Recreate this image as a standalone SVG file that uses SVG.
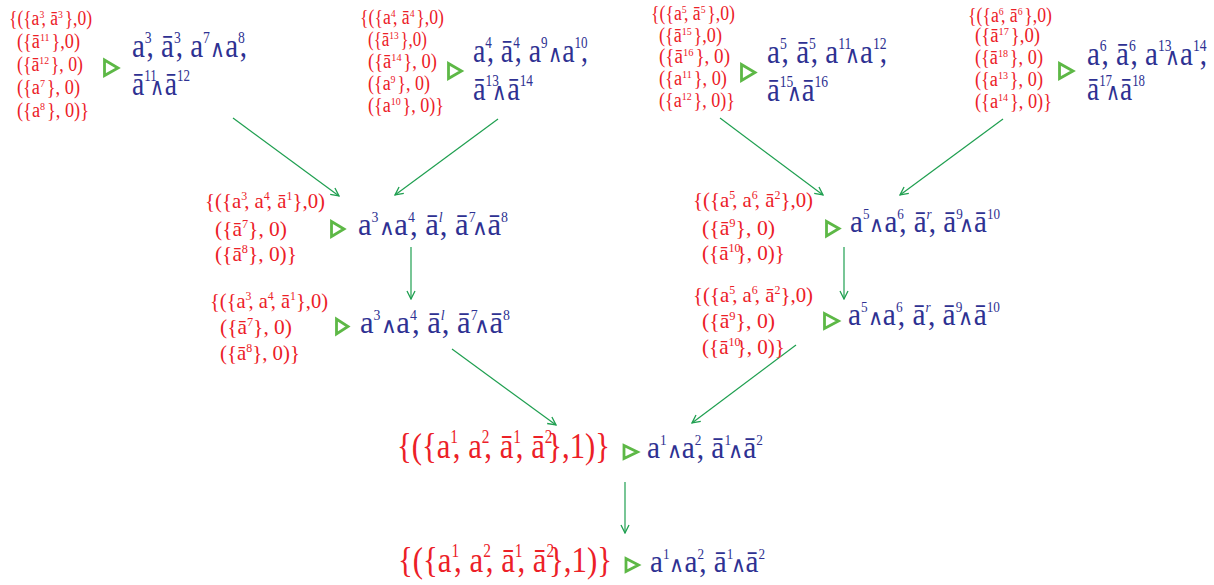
<svg xmlns="http://www.w3.org/2000/svg" width="1214" height="585" viewBox="0 0 1214 585">
<defs>
<style>
.r{fill:#ec2027;font-family:"Liberation Serif","Times New Roman",serif}
.b{fill:#2e3192;font-family:"Liberation Serif","Times New Roman",serif}
.rt{font-size:20px}
.rm{font-size:21px}
.rb{font-size:36px}
.bt{font-size:34px}
.bm{font-size:31px}
.s1{font-size:11px}
.s2{font-size:16px}
.s3{font-size:14px}
.s4{font-size:18px}
.s5{font-size:12px}
.w1{font-size:24px}
.w2{font-size:22px}
.it{font-style:italic}
.tri{fill:none;stroke:#5db846;stroke-width:2.8}
.arr{fill:none;stroke:#1f9f50;stroke-width:1.2;marker-end:url(#ah)}
</style>
<marker id="ah" viewBox="0 0 10 10" refX="9" refY="5" markerWidth="10" markerHeight="10" markerUnits="userSpaceOnUse" orient="auto">
<path d="M1,1 L9,5 L1,9" fill="none" stroke="#1f9f50" stroke-width="1.3"/>
</marker>
</defs>

<g id="connectors">
<line class="arr" x1="233" y1="118" x2="339" y2="196"/>
<line class="arr" x1="498" y1="119" x2="395" y2="195"/>
<line class="arr" x1="720" y1="118" x2="823" y2="195"/>
<line class="arr" x1="1003" y1="119" x2="900" y2="195"/>
<line class="arr" x1="411" y1="247" x2="411" y2="299"/>
<line class="arr" x1="844" y1="247" x2="844" y2="299"/>
<line class="arr" x1="452" y1="349" x2="556" y2="425"/>
<line class="arr" x1="796" y1="345" x2="692" y2="423"/>
<line class="arr" x1="625" y1="482" x2="625" y2="533"/>
</g>

<g id="n1">
<text class="r rt" x="9" y="25" textLength="83" lengthAdjust="spacingAndGlyphs">{({a<tspan class="s1" dy="-7">3</tspan><tspan dy="7" dx="-3">, ā</tspan><tspan class="s1" dy="-7">3</tspan><tspan dy="7" dx="2">},0)</tspan></text>
<text class="r rt" x="17" y="48" textLength="63" lengthAdjust="spacingAndGlyphs">({ā<tspan class="s1" dy="-7">11</tspan><tspan dy="7" dx="2">},0)</tspan></text>
<text class="r rt" x="17" y="71" textLength="66" lengthAdjust="spacingAndGlyphs">({ā<tspan class="s1" dy="-7">12</tspan><tspan dy="7" dx="2">}, 0)</tspan></text>
<text class="r rt" x="17" y="94" textLength="63" lengthAdjust="spacingAndGlyphs">({a<tspan class="s1" dy="-7">7</tspan><tspan dy="7" dx="2">}, 0)</tspan></text>
<text class="r rt" x="17" y="117" textLength="72" lengthAdjust="spacingAndGlyphs">({a<tspan class="s1" dy="-7">8</tspan><tspan dy="7" dx="2">}, 0)}</tspan></text>
<path class="tri" d="M104.5,60 L104.5,75.5 L118,68 Z"/>
<text class="b bt" x="132" y="57" textLength="115" lengthAdjust="spacingAndGlyphs">a<tspan class="s2" dy="-14">3</tspan><tspan dy="14" dx="-6">, ā</tspan><tspan class="s2" dy="-14">3</tspan><tspan dy="14" dx="-6">, a</tspan><tspan class="s2" dy="-14">7</tspan><tspan class="w1" dy="14">∧</tspan>a<tspan class="s2" dy="-14">8</tspan><tspan dy="14" dx="-6">,</tspan></text>
<text class="b bt" x="132" y="95" textLength="58" lengthAdjust="spacingAndGlyphs">ā<tspan class="s2" dy="-14">11</tspan><tspan class="w1" dy="14" dx="-8">∧</tspan>ā<tspan class="s2" dy="-14">12</tspan></text>
</g>

<g id="n2">
<text class="r rt" x="360" y="24" textLength="84" lengthAdjust="spacingAndGlyphs">{({a<tspan class="s1" dy="-7">4</tspan><tspan dy="7" dx="-3">, ā</tspan><tspan class="s1" dy="-7">4</tspan><tspan dy="7" dx="2">},0)</tspan></text>
<text class="r rt" x="368" y="46" textLength="59" lengthAdjust="spacingAndGlyphs">({ā<tspan class="s1" dy="-7">13</tspan><tspan dy="7" dx="2">},0)</tspan></text>
<text class="r rt" x="368" y="68" textLength="69" lengthAdjust="spacingAndGlyphs">({ā<tspan class="s1" dy="-7">14</tspan><tspan dy="7" dx="2">}, 0)</tspan></text>
<text class="r rt" x="368" y="90" textLength="62" lengthAdjust="spacingAndGlyphs">({a<tspan class="s1" dy="-7">9</tspan><tspan dy="7" dx="2">}, 0)</tspan></text>
<text class="r rt" x="368" y="112" textLength="76" lengthAdjust="spacingAndGlyphs">({a<tspan class="s1" dy="-7">10</tspan><tspan dy="7" dx="2">}, 0)}</tspan></text>
<path class="tri" d="M448.5,63.5 L448.5,78.5 L461.5,71 Z"/>
<text class="b bt" x="473" y="62" textLength="115" lengthAdjust="spacingAndGlyphs">a<tspan class="s2" dy="-14">4</tspan><tspan dy="14" dx="-6">, ā</tspan><tspan class="s2" dy="-14">4</tspan><tspan dy="14" dx="-6">, a</tspan><tspan class="s2" dy="-14">9</tspan><tspan class="w1" dy="14">∧</tspan>a<tspan class="s2" dy="-14">10</tspan><tspan dy="14" dx="-8">,</tspan></text>
<text class="b bt" x="473" y="100" textLength="60" lengthAdjust="spacingAndGlyphs">ā<tspan class="s2" dy="-14">13</tspan><tspan class="w1" dy="14" dx="-8">∧</tspan>ā<tspan class="s2" dy="-14">14</tspan></text>
</g>

<g id="n3">
<text class="r rt" x="651" y="20" textLength="84" lengthAdjust="spacingAndGlyphs">{({a<tspan class="s1" dy="-7">5</tspan><tspan dy="7" dx="-3">, ā</tspan><tspan class="s1" dy="-7">5</tspan><tspan dy="7" dx="2">},0)</tspan></text>
<text class="r rt" x="659" y="42" textLength="63" lengthAdjust="spacingAndGlyphs">({ā<tspan class="s1" dy="-7">15</tspan><tspan dy="7" dx="2">},0)</tspan></text>
<text class="r rt" x="659" y="63" textLength="71" lengthAdjust="spacingAndGlyphs">({ā<tspan class="s1" dy="-7">16</tspan><tspan dy="7" dx="2">}, 0)</tspan></text>
<text class="r rt" x="659" y="85" textLength="68" lengthAdjust="spacingAndGlyphs">({a<tspan class="s1" dy="-7">11</tspan><tspan dy="7" dx="2">}, 0)</tspan></text>
<text class="r rt" x="659" y="107" textLength="76" lengthAdjust="spacingAndGlyphs">({a<tspan class="s1" dy="-7">12</tspan><tspan dy="7" dx="2">}, 0)}</tspan></text>
<path class="tri" d="M741.5,64.5 L741.5,80.5 L755,72.5 Z"/>
<text class="b bt" x="767" y="63" textLength="120" lengthAdjust="spacingAndGlyphs">a<tspan class="s2" dy="-14">5</tspan><tspan dy="14" dx="-6">, ā</tspan><tspan class="s2" dy="-14">5</tspan><tspan dy="14" dx="-6">, a</tspan><tspan class="s2" dy="-14">11</tspan><tspan class="w1" dy="14" dx="-8">∧</tspan>a<tspan class="s2" dy="-14">12</tspan><tspan dy="14" dx="-8">,</tspan></text>
<text class="b bt" x="767" y="101" textLength="61" lengthAdjust="spacingAndGlyphs">ā<tspan class="s2" dy="-14">15</tspan><tspan class="w1" dy="14" dx="-8">∧</tspan>ā<tspan class="s2" dy="-14">16</tspan></text>
</g>

<g id="n4">
<text class="r rt" x="968" y="22" textLength="84" lengthAdjust="spacingAndGlyphs">{({a<tspan class="s1" dy="-7">6</tspan><tspan dy="7" dx="-3">, ā</tspan><tspan class="s1" dy="-7">6</tspan><tspan dy="7" dx="2">},0)</tspan></text>
<text class="r rt" x="975" y="42" textLength="65" lengthAdjust="spacingAndGlyphs">({ā<tspan class="s1" dy="-7">17</tspan><tspan dy="7" dx="2">},0)</tspan></text>
<text class="r rt" x="975" y="64" textLength="68" lengthAdjust="spacingAndGlyphs">({ā<tspan class="s1" dy="-7">18</tspan><tspan dy="7" dx="2">}, 0)</tspan></text>
<text class="r rt" x="975" y="86" textLength="68" lengthAdjust="spacingAndGlyphs">({a<tspan class="s1" dy="-7">13</tspan><tspan dy="7" dx="2">}, 0)</tspan></text>
<text class="r rt" x="975" y="108" textLength="77" lengthAdjust="spacingAndGlyphs">({a<tspan class="s1" dy="-7">14</tspan><tspan dy="7" dx="2">}, 0)}</tspan></text>
<path class="tri" d="M1059.5,63.5 L1059.5,78.5 L1073,71 Z"/>
<text class="b bt" x="1087" y="65" textLength="120" lengthAdjust="spacingAndGlyphs">a<tspan class="s2" dy="-14">6</tspan><tspan dy="14" dx="-6">, ā</tspan><tspan class="s2" dy="-14">6</tspan><tspan dy="14" dx="-6">, a</tspan><tspan class="s2" dy="-14">13</tspan><tspan class="w1" dy="14" dx="-8">∧</tspan>a<tspan class="s2" dy="-14">14</tspan><tspan dy="14" dx="-8">,</tspan></text>
<text class="b bt" x="1087" y="100" textLength="58" lengthAdjust="spacingAndGlyphs">ā<tspan class="s2" dy="-14">17</tspan><tspan class="w1" dy="14" dx="-8">∧</tspan>ā<tspan class="s2" dy="-14">18</tspan></text>
</g>

<g id="n5">
<text class="r rm" x="205" y="208" textLength="120" lengthAdjust="spacingAndGlyphs">{({a<tspan class="s5" dy="-8">3</tspan><tspan dy="8" dx="-3">, a</tspan><tspan class="s5" dy="-8">4</tspan><tspan dy="8" dx="-3">, ā</tspan><tspan class="s5" dy="-8">1</tspan><tspan dy="8">},0)</tspan></text>
<text class="r rm" x="215" y="236" textLength="72" lengthAdjust="spacingAndGlyphs">({ā<tspan class="s5" dy="-8">7</tspan><tspan dy="8">}, 0)</tspan></text>
<text class="r rm" x="215" y="261" textLength="82" lengthAdjust="spacingAndGlyphs">({ā<tspan class="s5" dy="-8">8</tspan><tspan dy="8">}, 0)}</tspan></text>
<path class="tri" d="M331.5,221.5 L331.5,236.5 L344,229 Z"/>
<text class="b bm" x="358" y="235" textLength="150" lengthAdjust="spacingAndGlyphs">a<tspan class="s3" dy="-13">3</tspan><tspan class="w2" dy="13">∧</tspan>a<tspan class="s3" dy="-13">4</tspan><tspan dy="13" dx="-5">, ā</tspan><tspan class="s3 it" dy="-13">l</tspan><tspan dy="13" dx="-3">, ā</tspan><tspan class="s3" dy="-13">7</tspan><tspan class="w2" dy="13" dx="-4">∧</tspan>ā<tspan class="s3" dy="-13">8</tspan></text>
</g>

<g id="n6">
<text class="r rm" x="693" y="207" textLength="120" lengthAdjust="spacingAndGlyphs">{({a<tspan class="s5" dy="-8">5</tspan><tspan dy="8" dx="-3">, a</tspan><tspan class="s5" dy="-8">6</tspan><tspan dy="8" dx="-3">, ā</tspan><tspan class="s5" dy="-8">2</tspan><tspan dy="8">},0)</tspan></text>
<text class="r rm" x="702" y="235" textLength="73" lengthAdjust="spacingAndGlyphs">({ā<tspan class="s5" dy="-8">9</tspan><tspan dy="8">}, 0)</tspan></text>
<text class="r rm" x="702" y="260" textLength="83" lengthAdjust="spacingAndGlyphs">({ā<tspan class="s5" dy="-8">10</tspan><tspan dy="8" dx="-4">}, 0)}</tspan></text>
<path class="tri" d="M826.5,221.5 L826.5,236 L839,228.5 Z"/>
<text class="b bm" x="850" y="232" textLength="150" lengthAdjust="spacingAndGlyphs">a<tspan class="s3" dy="-13">5</tspan><tspan class="w2" dy="13">∧</tspan>a<tspan class="s3" dy="-13">6</tspan><tspan dy="13" dx="-5">, ā</tspan><tspan class="s3 it" dy="-13">r</tspan><tspan dy="13" dx="-3">, ā</tspan><tspan class="s3" dy="-13">9</tspan><tspan class="w2" dy="13" dx="-4">∧</tspan>ā<tspan class="s3" dy="-13">10</tspan></text>
</g>

<g id="n7">
<text class="r rm" x="210" y="308" textLength="118" lengthAdjust="spacingAndGlyphs">{({a<tspan class="s5" dy="-8">3</tspan><tspan dy="8" dx="-3">, a</tspan><tspan class="s5" dy="-8">4</tspan><tspan dy="8" dx="-3">, ā</tspan><tspan class="s5" dy="-8">1</tspan><tspan dy="8">},0)</tspan></text>
<text class="r rm" x="220" y="334" textLength="72" lengthAdjust="spacingAndGlyphs">({ā<tspan class="s5" dy="-8">7</tspan><tspan dy="8">}, 0)</tspan></text>
<text class="r rm" x="220" y="360" textLength="80" lengthAdjust="spacingAndGlyphs">({ā<tspan class="s5" dy="-8">8</tspan><tspan dy="8">}, 0)}</tspan></text>
<path class="tri" d="M336.5,319 L336.5,334 L348,326.5 Z"/>
<text class="b bm" x="360" y="333" textLength="150" lengthAdjust="spacingAndGlyphs">a<tspan class="s3" dy="-13">3</tspan><tspan class="w2" dy="13">∧</tspan>a<tspan class="s3" dy="-13">4</tspan><tspan dy="13" dx="-5">, ā</tspan><tspan class="s3 it" dy="-13">l</tspan><tspan dy="13" dx="-3">, ā</tspan><tspan class="s3" dy="-13">7</tspan><tspan class="w2" dy="13" dx="-4">∧</tspan>ā<tspan class="s3" dy="-13">8</tspan></text>
</g>

<g id="n8">
<text class="r rm" x="693" y="302" textLength="120" lengthAdjust="spacingAndGlyphs">{({a<tspan class="s5" dy="-8">5</tspan><tspan dy="8" dx="-3">, a</tspan><tspan class="s5" dy="-8">6</tspan><tspan dy="8" dx="-3">, ā</tspan><tspan class="s5" dy="-8">2</tspan><tspan dy="8">},0)</tspan></text>
<text class="r rm" x="702" y="328" textLength="73" lengthAdjust="spacingAndGlyphs">({ā<tspan class="s5" dy="-8">9</tspan><tspan dy="8">}, 0)</tspan></text>
<text class="r rm" x="702" y="354" textLength="83" lengthAdjust="spacingAndGlyphs">({ā<tspan class="s5" dy="-8">10</tspan><tspan dy="8" dx="-4">}, 0)}</tspan></text>
<path class="tri" d="M824.5,313.5 L824.5,328.5 L838.5,321 Z"/>
<text class="b bm" x="848" y="325" textLength="152" lengthAdjust="spacingAndGlyphs">a<tspan class="s3" dy="-13">5</tspan><tspan class="w2" dy="13">∧</tspan>a<tspan class="s3" dy="-13">6</tspan><tspan dy="13" dx="-5">, ā</tspan><tspan class="s3 it" dy="-13">r</tspan><tspan dy="13" dx="-3">, ā</tspan><tspan class="s3" dy="-13">9</tspan><tspan class="w2" dy="13" dx="-4">∧</tspan>ā<tspan class="s3" dy="-13">10</tspan></text>
</g>

<g id="n9">
<text class="r rb" x="397" y="458" textLength="213" lengthAdjust="spacingAndGlyphs">{({a<tspan class="s4" dy="-15">1</tspan><tspan dy="15" dx="-6">, a</tspan><tspan class="s4" dy="-15">2</tspan><tspan dy="15" dx="-6">, ā</tspan><tspan class="s4" dy="-15">1</tspan><tspan dy="15" dx="-6">, ā</tspan><tspan class="s4" dy="-15">2</tspan><tspan dy="15" dx="-6">},1)}</tspan></text>
<path class="tri" d="M624,445.5 L624,458.5 L637.5,452 Z"/>
<text class="b bm" x="647" y="458" textLength="116" lengthAdjust="spacingAndGlyphs">a<tspan class="s3" dy="-13">1</tspan><tspan class="w2" dy="13">∧</tspan>a<tspan class="s3" dy="-13">2</tspan><tspan dy="13" dx="-5">, ā</tspan><tspan class="s3" dy="-13">1</tspan><tspan class="w2" dy="13" dx="-3">∧</tspan>ā<tspan class="s3" dy="-13">2</tspan></text>
</g>

<g id="n10">
<text class="r rb" x="398" y="572" textLength="214" lengthAdjust="spacingAndGlyphs">{({a<tspan class="s4" dy="-15">1</tspan><tspan dy="15" dx="-6">, a</tspan><tspan class="s4" dy="-15">2</tspan><tspan dy="15" dx="-6">, ā</tspan><tspan class="s4" dy="-15">1</tspan><tspan dy="15" dx="-6">, ā</tspan><tspan class="s4" dy="-15">2</tspan><tspan dy="15" dx="-6">},1)}</tspan></text>
<path class="tri" d="M626,558.5 L626,571.5 L638.5,565 Z"/>
<text class="b bm" x="650" y="572" textLength="115" lengthAdjust="spacingAndGlyphs">a<tspan class="s3" dy="-13">1</tspan><tspan class="w2" dy="13">∧</tspan>a<tspan class="s3" dy="-13">2</tspan><tspan dy="13" dx="-5">, ā</tspan><tspan class="s3" dy="-13">1</tspan><tspan class="w2" dy="13" dx="-3">∧</tspan>ā<tspan class="s3" dy="-13">2</tspan></text>
</g>
</svg>
